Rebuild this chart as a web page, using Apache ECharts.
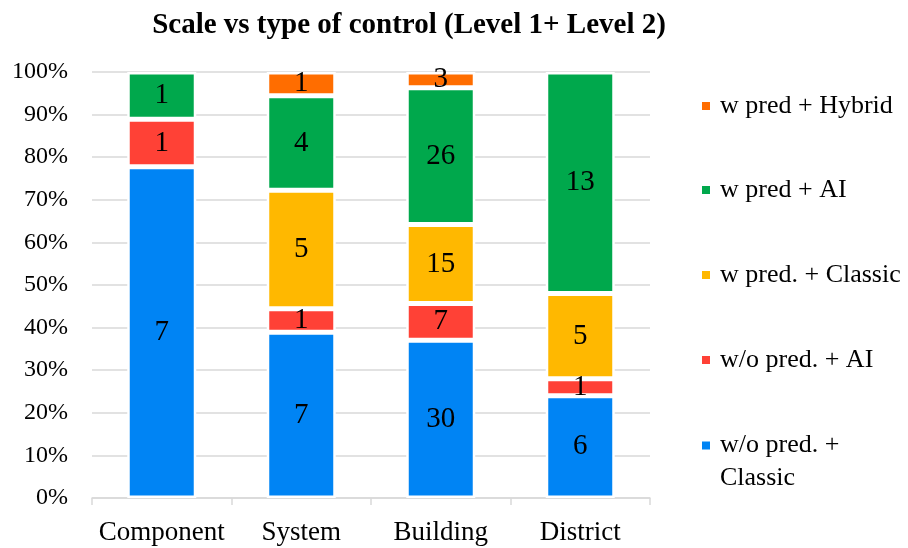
<!DOCTYPE html>
<html><head><meta charset="utf-8">
<script src="https://cdn.jsdelivr.net/npm/echarts@6/dist/echarts.min.js"></script>
<style>html,body{margin:0;padding:0;background:#fff}#c{width:908px;height:548px}</style>
</head><body><div id="c"></div>
<script>
const categories = ['Component', 'System', 'Building', 'District'];
const woPredClassic = [7, 7, 30, 6];
const woPredAI = [1, 1, 7, 1];
const wPredClassic = [0, 5, 15, 5];
const wPredAI = [1, 4, 26, 13];
const wPredHybrid = [0, 1, 3, 0];
const seriesNames = ['w/o pred. + Classic', 'w/o pred. + AI', 'w pred. + Classic', 'w pred + AI', 'w pred + Hybrid'];
const seriesColors = ['#0084F4', '#FF4136', '#FFB800', '#00A84C', '#FF6D00'];
const yTicks = [0, 10, 20, 30, 40, 50, 60, 70, 80, 90, 100];

const counts = [woPredClassic, woPredAI, wPredClassic, wPredAI, wPredHybrid];
const totals = categories.map((_, i) => counts.reduce((s, a) => s + a[i], 0));
const FONT = "'Palatino Linotype','Book Antiqua',Palatino,'Liberation Serif',serif";

const series = counts.map((arr, k) => ({
  name: seriesNames[k],
  type: 'bar',
  stack: 'total',
  barWidth: 69,
  data: arr.map((v, i) => v === 0 ? null : { value: v / totals[i] * 100, count: v }),
  itemStyle: { color: seriesColors[k], borderColor: '#fff', borderWidth: 2.5 },
  label: {
    show: true, position: 'inside', color: '#000', fontFamily: FONT, fontSize: 29,
    formatter: p => p.data && p.data.count ? String(p.data.count) : ''
  }
}));

const legendTops = [88, 172, 257, 342];
const legendOrder = ['w pred + Hybrid', 'w pred + AI', 'w pred. + Classic', 'w/o pred. + AI'];
const legends = legendOrder.map((n, i) => ({
  data: [n], left: 695, top: legendTops[i], orient: 'vertical', icon: 'rect',
  itemWidth: 10, itemHeight: 10, selectedMode: false,
  textStyle: { fontFamily: FONT, fontSize: 26, color: '#000', padding: [0, 0, 0, 4] }
}));
legends.push({
  data: ['w/o pred. + Classic'], left: 695, top: 391, orient: 'vertical', icon: 'rect',
  itemWidth: 10, itemHeight: 10, selectedMode: false,
  formatter: () => ' \nw/o pred. +\nClassic',
  textStyle: { fontFamily: FONT, fontSize: 26, color: '#000', lineHeight: 33, padding: [0, 0, 0, 4] }
});

const chart = echarts.init(document.getElementById('c'), null, { renderer: 'canvas' });
chart.setOption({
  animation: false,
  backgroundColor: '#fff',
  title: {
    text: 'Scale vs type of control (Level 1+ Level 2)',
    left: 404, top: 6, textAlign: 'center',
    textStyle: { fontFamily: FONT, fontWeight: 'bold', fontSize: 29, color: '#000' }
  },
  legend: legends,
  grid: { left: 92, right: 258, top: 72, bottom: 50, containLabel: false },
  xAxis: {
    type: 'category', data: categories,
    axisLine: { lineStyle: { color: '#d9d9d9', width: 1.5 } },
    axisTick: { show: true, interval: 0, length: 7, lineStyle: { color: '#d9d9d9', width: 1.5 } },
    axisLabel: { interval: 0, hideOverlap: false, color: '#000', fontFamily: FONT, fontSize: 27, margin: 21 }
  },
  yAxis: {
    type: 'value', min: yTicks[0], max: yTicks[yTicks.length - 1], interval: 10,
    axisLine: { show: false }, axisTick: { show: false },
    splitLine: { lineStyle: { color: '#d9d9d9', width: 1.5 } },
    axisLabel: { color: '#000', fontFamily: FONT, fontSize: 24, margin: 24, formatter: '{value}%' }
  },
  series: series
});
</script></body></html>
